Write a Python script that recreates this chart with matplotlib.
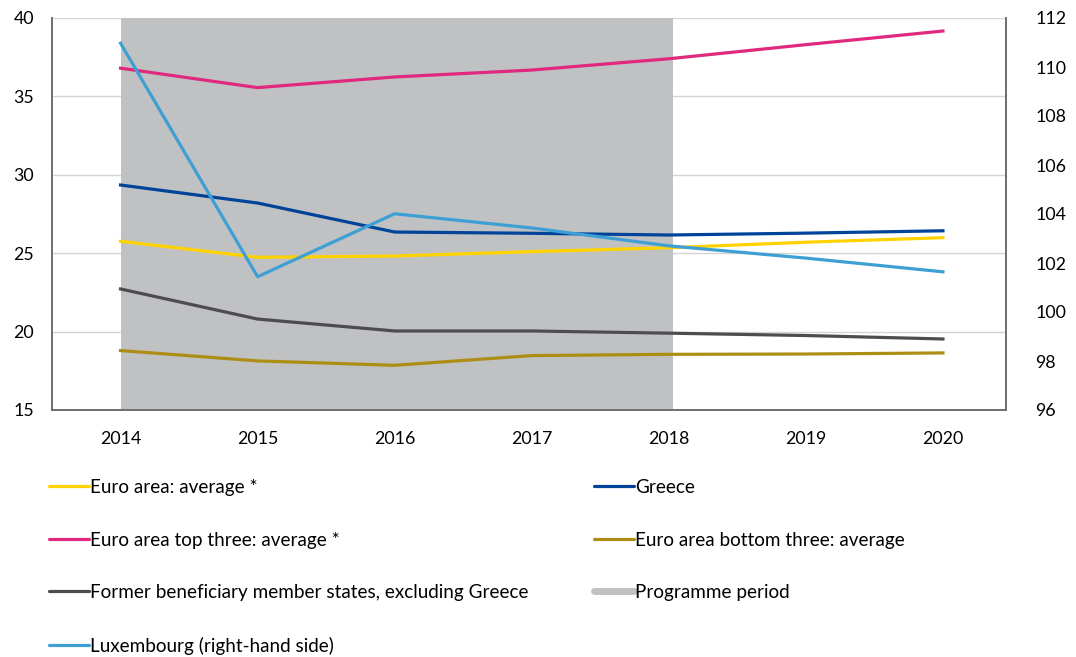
import matplotlib
matplotlib.use("Agg")
import matplotlib.pyplot as plt
from matplotlib.lines import Line2D

plt.rcParams['font.family'] = ['Lato', 'DejaVu Sans']

# Data
years = [2014, 2015, 2016, 2017, 2018, 2019, 2020]
euro_avg = [25.76, 24.74, 24.82, 25.10, 25.35, 25.70, 25.99]
greece = [29.35, 28.20, 26.35, 26.27, 26.16, 26.28, 26.43]
euro_top3 = [36.80, 35.56, 36.24, 36.68, 37.40, 38.30, 39.17]
euro_bottom3 = [18.79, 18.13, 17.85, 18.47, 18.55, 18.57, 18.64]
former_benef = [22.72, 20.80, 20.04, 20.04, 19.90, 19.75, 19.53]
luxembourg = [110.97, 101.44, 104.01, 103.43, 102.70, 102.20, 101.64]  # right-hand axis
programme_start, programme_end = 2014, 2018

# Colours
C_YELLOW = '#ffd200'
C_GREECE = '#00449a'
C_PINK = '#e0287f'
C_GOLD = '#ad8e14'
C_DARK = '#4d4d4f'
C_LUX = '#3e9fd5'
C_PROG = '#c0c1c3'

fig = plt.figure(figsize=(10.76, 6.57), dpi=100)
ax = fig.add_axes([52 / 1076, 1 - 410 / 657, (1006 - 52) / 1076, (410 - 18) / 657])
ax2 = ax.twinx()

# Programme period shading
ax.axvspan(programme_start, programme_end + 0.03, color=C_PROG, lw=0, zorder=1)

lw = 2.3
ax.plot(years, euro_bottom3, color=C_GOLD, lw=lw, zorder=3)
ax.plot(years, former_benef, color=C_DARK, lw=lw, zorder=3)
ax.plot(years, euro_avg, color=C_YELLOW, lw=lw, zorder=3)
ax.plot(years, greece, color=C_GREECE, lw=lw, zorder=3)
ax.plot(years, euro_top3, color=C_PINK, lw=lw, zorder=3)
ax2.plot(years, luxembourg, color=C_LUX, lw=lw, zorder=3)

ax.set_xlim(2013.5, 2020.46)
ax.set_ylim(15, 40)
ax2.set_ylim(96, 112)
ax.set_yticks(range(15, 41, 5))
ax2.set_yticks(range(96, 113, 2))
ax.set_xticks(years)
ax.set_xticklabels([str(y) for y in years])

ax.grid(axis='y', color='#d4d4d4', lw=1, zorder=0)
ax.set_axisbelow(True)

for a in (ax, ax2):
    a.tick_params(length=0, labelsize=12.8, colors='black')
    a.spines['top'].set_visible(False)
    for s in ('left', 'right', 'bottom'):
        a.spines[s].set_color('#6d6d6d')
        a.spines[s].set_linewidth(1.2)
ax.tick_params(axis='x', pad=15)
ax.tick_params(axis='y', pad=13)
ax2.tick_params(axis='y', pad=21)

# Legend in two columns below the plot
def handle(color, width=2.3):
    return Line2D([0], [0], color=color, lw=width, solid_capstyle='round')

col1 = [(handle(C_YELLOW), 'Euro area: average *'),
        (handle(C_PINK), 'Euro area top three: average *'),
        (handle(C_DARK), 'Former beneficiary member states, excluding Greece'),
        (handle(C_LUX), 'Luxembourg (right-hand side)')]
col2 = [(handle(C_GREECE), 'Greece'),
        (handle(C_GOLD), 'Euro area bottom three: average'),
        (handle(C_PROG, 5), 'Programme period')]

legend_kw = dict(loc='upper left', frameon=False, fontsize=13.6, borderpad=0,
                 borderaxespad=0, handlelength=2.1, handletextpad=0.08,
                 labelspacing=1.88)
for entries, x0 in ((col1, 49 / 1076), (col2, 594 / 1076)):
    hs, ls = zip(*entries)
    fig.legend(hs, ls, bbox_to_anchor=(x0, 1 - 479 / 657), **legend_kw)

fig.savefig('out.png', dpi=100)
